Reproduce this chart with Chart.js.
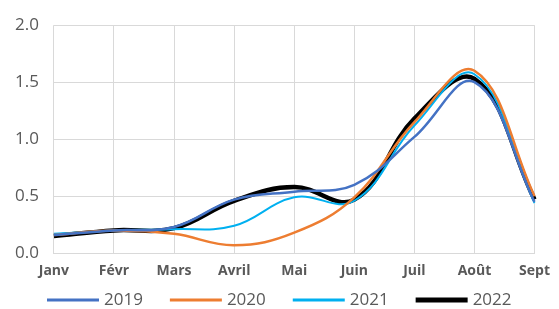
<!DOCTYPE html>
<html>
<head>
<meta charset="utf-8">
<script src="https://cdn.jsdelivr.net/npm/chart.js@4"></script>
<style>
  html, body { margin: 0; padding: 0; background: #fff; }
  #wrap { width: 559px; height: 309px; }
</style>
</head>
<body>
<div id="wrap"><canvas id="chart"></canvas></div>
<script>
const months = ["Janv", "Févr", "Mars", "Avril", "Mai", "Juin", "Juil", "Août", "Sept"];
const yTicks = [0, 0.5, 1, 1.5, 2];

const v2019 = [0.16, 0.20, 0.23, 0.47, 0.54, 0.60, 1.02, 1.50, 0.45];
const v2020 = [0.16, 0.20, 0.17, 0.07, 0.18, 0.49, 1.15, 1.60, 0.50];
const v2021 = [0.17, 0.20, 0.21, 0.24, 0.49, 0.46, 1.12, 1.57, 0.44];
const v2022 = [0.15, 0.20, 0.22, 0.46, 0.58, 0.47, 1.18, 1.53, 0.47];

const gray = "#595959";
const font = "'Open Sans', sans-serif";

function line(label, data, color, width) {
  return {
    label: label,
    data: data,
    borderColor: color,
    backgroundColor: color,
    borderWidth: width,
    pointRadius: 0,
    tension: 0.4,
    fill: false,
  };
}

// legend drawn by hand: long line samples, tight text gap, wide item gap
const lineLegend = {
  id: "lineLegend",
  afterDraw(chart) {
    const c = chart.ctx;
    const y = 300;
    let x = 47;
    c.save();
    c.font = "17px " + font;
    c.textBaseline = "middle";
    chart.data.datasets.forEach((ds) => {
      c.strokeStyle = ds.borderColor;
      c.lineWidth = ds.borderWidth > 3 ? 5 : 3;
      c.beginPath();
      c.moveTo(x, y);
      c.lineTo(x + 52, y);
      c.stroke();
      x += 57;
      c.fillStyle = gray;
      c.fillText(ds.label, x, y);
      x += c.measureText(ds.label).width + 27;
    });
    c.restore();
  },
};

const ctx = document.getElementById("chart").getContext("2d");
new Chart(ctx, {
  type: "line",
  data: {
    labels: months,
    datasets: [
      line("2019", v2019, "#4472C4", 2.5),
      line("2020", v2020, "#ED7D31", 2.5),
      line("2021", v2021, "#00B0F0", 2),
      line("2022", v2022, "#000000", 4.5),
    ],
  },
  options: {
    responsive: true,
    maintainAspectRatio: false,
    animation: false,
    layout: { padding: { left: 0, right: 0, top: 6, bottom: 21 } },
    plugins: {
      tooltip: { enabled: false },
      legend: { display: false },
    },
    scales: {
      x: {
        offset: false,
        grid: { color: "#d9d9d9", drawTicks: false },
        border: { color: "#d9d9d9" },
        ticks: {
          color: gray,
          font: { family: font, size: 14, weight: "bold" },
          padding: 9,
          maxRotation: 0,
          autoSkip: false,
        },
      },
      y: {
        min: 0,
        max: 2,
        afterBuildTicks: (axis) => {
          axis.ticks = yTicks.map((v) => ({ value: v }));
        },
        grid: { color: "#d9d9d9", drawTicks: false },
        border: { display: false },
        ticks: {
          color: gray,
          font: { family: font, size: 17 },
          padding: 15,
          callback: (v) => v.toFixed(1),
        },
      },
    },
  },
  plugins: [lineLegend],
});
</script>
</body>
</html>
